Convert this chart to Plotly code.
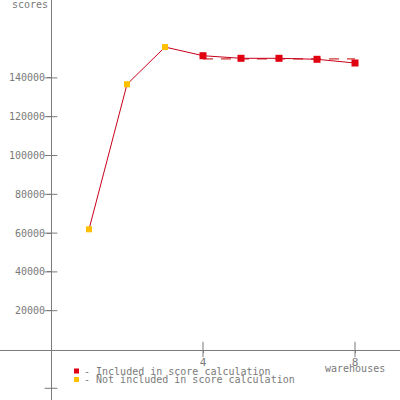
import plotly.graph_objects as go

warehouses = [1, 2, 3, 4, 5, 6, 7, 8]
scores = [61960, 136700, 155900, 151440, 150100, 150100, 149590, 147680]
included = [False, False, False, True, True, True, True, True]
ytickvals = [20000, 40000, 60000, 80000, 100000, 120000, 140000]
ytick_labels = ["20000", "40000", "60000", "80000", "100000", "120000", "140000"]
xtickvals = [4, 8]
xtick_labels = ["4", "8"]
extra_ytick = [-20000]

inc_x = [w for w, i in zip(warehouses, included) if i]
inc_y = [s for s, i in zip(scores, included) if i]
exc_x = [w for w, i in zip(warehouses, included) if not i]
exc_y = [s for s, i in zip(scores, included) if not i]
avg = sum(inc_y) / len(inc_y)

GRAY = "#7a7a7a"
FONT = "DejaVu Sans Mono"
FS = 10

fig = go.Figure()
# tick crosses
fig.add_trace(go.Scatter(x=[0] * (len(ytickvals) + 1), y=ytickvals + extra_ytick, mode="markers",
                         marker=dict(symbol="line-ew", size=9, line=dict(color=GRAY, width=1)),
                         hoverinfo="skip", showlegend=False))
fig.add_trace(go.Scatter(x=xtickvals, y=[0] * len(xtickvals), mode="markers",
                         marker=dict(symbol="line-ns", size=11, line=dict(color=GRAY, width=1)),
                         hoverinfo="skip", showlegend=False))
# average dashed line
fig.add_trace(go.Scatter(x=[min(inc_x), max(inc_x)], y=[avg, avg], mode="lines",
                         line=dict(color="#c00000", width=1, dash="10px,8px"),
                         hoverinfo="skip", showlegend=False))
# main line
fig.add_trace(go.Scatter(x=warehouses, y=scores, mode="lines",
                         line=dict(color="#c8001a", width=1), showlegend=False))
fig.add_trace(go.Scatter(x=exc_x, y=exc_y, mode="markers",
                         marker=dict(symbol="square", size=6, color="#ffc000"),
                         showlegend=False))
fig.add_trace(go.Scatter(x=inc_x, y=inc_y, mode="markers",
                         marker=dict(symbol="square", size=7, color="#e00010"),
                         showlegend=False))

fig.update_layout(
    width=400, height=400,
    margin=dict(l=0, r=0, t=0, b=0),
    paper_bgcolor="white", plot_bgcolor="white",
    font=dict(family=FONT, size=FS, color=GRAY),
    xaxis=dict(range=[-1.342, 9.184], anchor="free", position=0.126,
               showgrid=False, zeroline=False, showline=True, linecolor=GRAY, linewidth=1,
               tickvals=xtickvals, ticktext=xtick_labels, ticks="outside", ticklen=2,
               tickcolor=GRAY, tickfont=dict(family=FONT, size=FS + 1, color=GRAY)),
    yaxis=dict(range=[-26030, 180155], anchor="free", position=0.1275,
               showgrid=False, zeroline=False, showline=True, linecolor=GRAY, linewidth=1,
               tickvals=ytickvals, ticktext=ytick_labels, ticks="outside", ticklen=4,
               tickcolor=GRAY, tickfont=dict(family=FONT, size=FS, color=GRAY)),
    showlegend=False,
)

fig.add_annotation(x=30 / 400, y=1.0, xref="paper", yref="paper", text="scores",
                   showarrow=False, xanchor="center", yanchor="top", yshift=3,
                   font=dict(family=FONT, size=FS, color=GRAY))
fig.add_annotation(x=8, y=0, xref="x", yref="y", text="warehouses", showarrow=False,
                   xanchor="center", yanchor="top", yshift=-11,
                   font=dict(family=FONT, size=FS, color=GRAY))

legend_items = [("- Included in score calculation", "#e00010"),
                ("- Not included in score calculation", "#ffc000")]
for k, (txt, col) in enumerate(legend_items):
    yc = 1 - (371 + 8.5 * k) / 400
    fig.add_shape(type="rect", xref="paper", yref="paper",
                  x0=74 / 400, x1=79 / 400, y0=yc - 2.5 / 400, y1=yc + 2.5 / 400,
                  fillcolor=col, line=dict(width=0))
    fig.add_annotation(x=82 / 400, y=yc, xref="paper", yref="paper", text=txt,
                       showarrow=False, xanchor="left", yanchor="middle",
                       font=dict(family=FONT, size=FS, color=GRAY))

fig.write_html("out.html", config={"displayModeBar": False},
               post_script="document.body.style.margin='0';")
